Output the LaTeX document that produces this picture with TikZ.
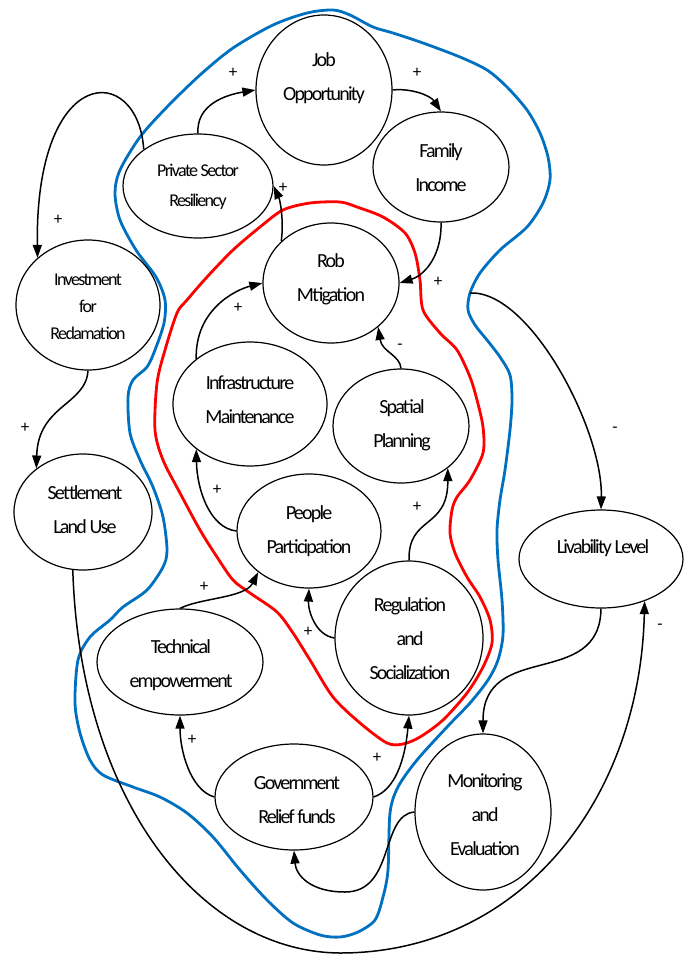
\documentclass[tikz,border=0pt]{standalone}
\usepackage{fontspec}
\newfontfamily\labf{Carlito}[LetterSpace=-9]
\newfontfamily\sgnf{Carlito}
\usetikzlibrary{shapes.geometric,arrows.meta}
\definecolor{loopblue}{RGB}{0,112,192}
\definecolor{loopred}{RGB}{255,0,0}
\tikzset{
  ell/.style={draw, ellipse, line width=1.2pt, inner sep=0pt},
  lab/.style={align=center, inner sep=0pt, font={\labf\fontsize{20}{34}\selectfont}},
  labsmall/.style={align=center, inner sep=0pt, font={\labf\fontsize{18}{30}\selectfont}},
  labinv/.style={align=center, inner sep=0pt, font={\labf\fontsize{18}{27}\selectfont}},
  sgn/.style={inner sep=0pt, font={\sgnf\fontsize{17}{20}\selectfont}},
  arr/.style={draw, line width=1.5pt, -{Triangle[length=13pt,width=9pt]}},
  bluel/.style={draw=loopblue, line width=2.8pt, line join=round},
  redl/.style={draw=loopred, line width=2.8pt, line join=round},
}
\begin{document}
\begin{tikzpicture}[x=1pt,y=-1pt]
\useasboundingbox (0,0) rectangle (692,954);

% loops
\draw[bluel] plot[smooth cycle, tension=0.5] coordinates {
(333,10) (350,15) (373,27) (393,33) (423,43) (460,57) (487,70) (507,87) (527,110) (540,133) (548,157) (550,180) (543,203) (527,227) (500,250) (480,273) (470,293) (468,310) (475,325) (487,340) (500,357) (510,375) (512,400) (510,430) (505,470) (500,500) (497,530) (498,560) (502,600) (503,635) (498,660) (488,680) (470,703) (447,727) (417,760) (398,787) (390,813) (388,870) (383,897) (375,920) (358,932) (340,937) (320,935) (293,923) (267,900) (240,870) (213,837) (187,813) (160,797) (133,787) (103,775) (90,760) (80,733) (75,703) (78,660) (90,637) (110,620) (123,607) (147,590) (163,567) (167,550) (163,517) (153,487) (140,460) (130,433) (128,397) (133,380) (147,367) (155,350) (164,323) (165,300) (156,277) (136,250) (120,220) (115,193) (120,170) (140,137) (167,107) (200,75) (233,48) (273,25) (307,13)};
\draw[redl] plot[smooth cycle, tension=0.5] coordinates {
(340,202) (357,207) (383,217) (405,233) (415,253) (420,280) (423,310) (440,333) (457,350) (470,377) (477,400) (483,427) (483,453) (470,480) (457,497) (452,510) (450,533) (455,553) (467,577) (480,597) (490,620) (492,643) (483,667) (467,693) (443,720) (420,737) (403,744) (387,743) (360,723) (333,697) (310,660) (293,633) (277,612) (250,593) (233,580) (217,557) (200,530) (180,493) (163,460) (155,430) (157,383) (165,350) (177,313) (187,300) (207,277) (233,250) (260,227) (283,210) (310,203)};

% nodes
\node[ell, minimum width=136pt, minimum height=150pt] (job) at (324,90) {};
\node[lab] (jobt) at (324,78) {Job\\Opportunity};
\node[ell, minimum width=150pt, minimum height=104pt] (psr) at (198,186) {};
\node[labsmall] (psrt) at (198,187) {Private Sector\\Resiliency};
\node[ell, minimum width=136pt, minimum height=110pt] (fam) at (441,167) {};
\node[lab] (famt) at (441,168) {Family\\Income};
\node[ell, minimum width=136pt, minimum height=120pt] (rob) at (331,283) {};
\node[lab] (robt) at (331,279) {Rob\\Mtigation};
\node[ell, minimum width=144pt, minimum height=130pt] (inv) at (88,305) {};
\node[labinv] (invt) at (88,307) {Investment\\for\\Redamation};
\node[ell, minimum width=154pt, minimum height=124pt] (inf) at (250,404) {};
\node[lab] (inft) at (250,400) {Infrastructure\\Maintenance};
\node[ell, minimum width=136pt, minimum height=114pt] (spa) at (401,426) {};
\node[lab] (spat) at (402,425) {Spatial\\Planning};
\node[ell, minimum width=138pt, minimum height=116pt] (set) at (83,512) {};
\node[lab] (sett) at (85,510) {Settlement\\Land Use};
\node[ell, minimum width=144pt, minimum height=114pt] (peo) at (309,531) {};
\node[lab] (peot) at (309,531) {People\\Participation};
\node[ell, minimum width=164pt, minimum height=98pt] (liv) at (601,559) {};
\node[lab] (livt) at (603,548) {Livability Level};
\node[ell, minimum width=148pt, minimum height=154pt] (reg) at (409,638) {};
\node[lab] (regt) at (410,639) {Regulation\\and\\Socialization};
\node[ell, minimum width=166pt, minimum height=106pt] (tec) at (180,662) {};
\node[lab] (tect) at (181,665) {Technical\\empowerment};
\node[ell, minimum width=158pt, minimum height=106pt] (gov) at (294,797) {};
\node[lab] (govt) at (297,800) {Government\\Relief funds};
\node[ell, minimum width=136pt, minimum height=156pt] (mon) at (483,812) {};
\node[lab] (mont) at (485,815) {Monitoring\\and\\Evaluation};
\coordinate (bstart) at (470,293);

% connectors
\draw[arr] (psr.north) .. controls (196,105) and (225,95) .. (job.west);
\draw[arr] (job.east) .. controls (410,88) and (430,95) .. (fam.north);
\draw[arr] (fam.south) .. controls (442,255) and (425,275) .. (rob.east);
\draw[arr] (rob.140) .. controls (284,220) and (280,200) .. (psr.east);
\draw[arr] (psr.146) .. controls (138,62) and (35,62) .. (inv.137);
\draw[arr] (inv.south) .. controls (86,405) and (38,405) .. (set.137);
\draw[arr] (set.-100) .. controls (80,800) and (200,952) .. (340,953) .. controls (520,953) and (640,800) .. (liv.-44);
\draw[arr] (bstart) .. controls (530,290) and (603,430) .. (liv.north);
\draw[arr] (liv.south) .. controls (600,690) and (483,640) .. (mon.north);
\draw[arr] (mon.west) .. controls (380,815) and (395,892) .. (345,892) .. controls (310,892) and (296,875) .. (gov.south);
\draw[arr] (gov.east) .. controls (395,790) and (405,760) .. (reg.south);
\draw[arr] (gov.west) .. controls (190,790) and (180,750) .. (tec.south);
\draw[arr] (tec.north) .. controls (200,598) and (245,598) .. (peo.219);
\draw[arr] (reg.west) .. controls (315,635) and (308,610) .. (peo.south);
\draw[arr] (reg.north) .. controls (408,515) and (448,530) .. (spa.-42);
\draw[arr] (peo.west) .. controls (210,528) and (197,490) .. (inf.220);
\draw[arr] (inf.140) .. controls (195,310) and (235,290) .. (rob.west);
\draw[arr] (spa.north) .. controls (400,355) and (382,352) .. (rob.-43);

% signs
\node[sgn] (s1) at (233,73) {+};
\node[sgn] (s2) at (417,73) {+};
\node[sgn] (s3) at (438,282) {+};
\node[sgn] (s4) at (283,188) {+};
\node[sgn] (s5) at (58,220) {+};
\node[sgn] (s6) at (25,428) {+};
\node[sgn] (s7) at (660,627) {-};
\node[sgn] (s8) at (615,430) {-};
\node[sgn] (s9) at (377,758) {+};
\node[sgn] (s10) at (192,740) {+};
\node[sgn] (s11) at (204,587) {+};
\node[sgn] (s12) at (308,632) {+};
\node[sgn] (s13) at (417,507) {+};
\node[sgn] (s14) at (217,490) {+};
\node[sgn] (s15) at (238,308) {+};
\node[sgn] (s16) at (400,347) {-};
\end{tikzpicture}
\end{document}
